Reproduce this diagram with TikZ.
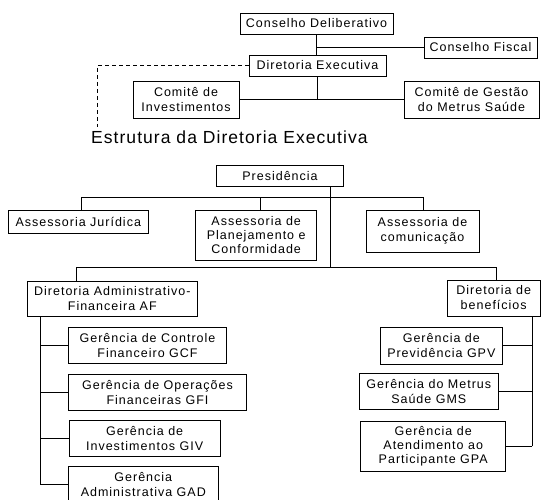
\documentclass[tikz,border=0pt]{standalone}
\usepackage{fontspec}
\setmainfont{Liberation Sans}
\newfontfamily\boxfam[LetterSpace=8]{Liberation Sans}
\newfontfamily\titlefam[LetterSpace=6]{Liberation Sans}
\begin{document}
\begin{tikzpicture}[x=1pt,y=-1pt,
  orgbox/.style={draw, line width=0.9pt, inner sep=0pt, align=center,
    font=\boxfam\fontsize{12.5}{15}\selectfont},
  tallbox/.style={orgbox, font=\boxfam\fontsize{12.5}{14}\selectfont},
  link/.style={line width=0.9pt},
  dashlink/.style={line width=0.9pt, dash pattern=on 4pt off 3pt}]
\useasboundingbox (0,0) rectangle (541,500);
\fill[white] (0,0) rectangle (541,500);
\clip (0,0) rectangle (541,500);

% ---- governing bodies ----
\node[orgbox, minimum width=153pt, minimum height=21pt] (cd) at (316.5,23.5) {Conselho Deliberativo};
\node[orgbox, minimum width=113pt, minimum height=21pt] (cf) at (480.5,47.5) {Conselho Fiscal};
\node[orgbox, minimum width=137pt, minimum height=21pt] (de) at (317.5,65.5) {Diretoria Executiva};
\node[orgbox, minimum width=106pt, minimum height=37pt] (ci) at (186,99.5) {Comitê de\\Investimentos};
\node[orgbox, minimum width=135pt, minimum height=37pt] (cg) at (471.5,99.5) {Comitê de Gestão\\do Metrus Saúde};

\draw[link] (cd.south) -- (cd.south |- de.north);
\draw[link] (cd.south |- cf.west) -- (cf.west);
\draw[link] (de.south) -- (de.south |- ci.east);
\draw[link] (ci.east) -- (cg.west);

\coordinate (dcorner) at (97,65.5);
\coordinate (dend) at (97,127);
\draw[dashlink] (de.west) -- (dcorner) -- (dend);

\node[anchor=base west, inner sep=0pt, font=\titlefam\fontsize{17.5}{20}\selectfont] (title) at (91,144) {Estrutura da Diretoria Executiva};

% ---- executive board ----
\node[orgbox, minimum width=126.5pt, minimum height=21.5pt] (pr) at (280,175.75) {Presidência};
\node[orgbox, minimum width=139.5pt, minimum height=23pt] (aj) at (78.3,221.5) {Assessoria Jurídica};
\node[tallbox, minimum width=121pt, minimum height=50pt] (ap) at (256.2,235) {Assessoria de\\Planejamento e\\Conformidade};
\node[orgbox, minimum width=113pt, minimum height=42pt] (ac) at (422.5,231) {Assessoria de\\comunicação};

\coordinate (prdrop) at (330,186.5);
\coordinate (upbus) at (330,197.5);
\coordinate (lowbus) at (330,267.3);
\draw[link] (prdrop) -- (lowbus);
\draw[link] (81,197.5) coordinate (ajtop) -- (423.5,197.5) coordinate (actop);
\draw[link] (ajtop) -- (ajtop |- aj.north);
\draw[link] (260,197.5) coordinate (aptop) -- (aptop |- ap.north);
\draw[link] (actop) -- (actop |- ac.north);

% ---- directorates ----
\node[orgbox, minimum width=170pt, minimum height=35.5pt] (af) at (112.3,298.75) {Diretoria Administrativo-\\Financeira AF};
\node[orgbox, minimum width=92.7pt, minimum height=36pt] (db) at (493.7,298) {Diretoria de\\benefícios};

\draw[link] (76,267.3) coordinate (aftop) -- (496,267.3) coordinate (dbtop);
\draw[link] (aftop) -- (aftop |- af.north);
\draw[link] (dbtop) -- (dbtop |- db.north);

% ---- administrative-financial managements ----
\node[orgbox, minimum width=158.4pt, minimum height=36.6pt] (gcf) at (147.5,345.5) {Gerência de Controle\\Financeiro GCF};
\node[orgbox, minimum width=178.4pt, minimum height=36.4pt] (gfi) at (157.5,392.5) {Gerência de Operações\\Financeiras GFI};
\node[orgbox, minimum width=150.7pt, minimum height=35.7pt] (giv) at (144.65,438.5) {Gerência de\\Investimentos GIV};
\node[orgbox, minimum width=150pt, minimum height=37pt] (gad) at (143.3,484.5) {Gerência\\Administrativa GAD};

\coordinate (busl) at (40.7,316);
\draw[link] (busl |- af.south) -- (busl |- gad.west);
\foreach \g in {gcf,gfi,giv,gad}
  \draw[link] (busl |- \g.west) -- (\g.west);

% ---- benefits managements ----
\node[orgbox, minimum width=122.7pt, minimum height=37.3pt] (gpv) at (441.35,345.6) {Gerência de\\Previdência GPV};
\node[orgbox, minimum width=139pt, minimum height=36pt] (gms) at (428.8,391.3) {Gerência do Metrus\\Saúde GMS};
\node[tallbox, minimum width=145pt, minimum height=50.7pt] (gpa) at (433.2,446.35) {Gerência de\\Atendimento ao\\Participante GPA};

\coordinate (busr) at (532.3,316);
\draw[link] (busr |- db.south) -- (busr |- gpa.east);
\foreach \g in {gpv,gms,gpa}
  \draw[link] (busr |- \g.east) -- (\g.east);
\end{tikzpicture}
\end{document}
